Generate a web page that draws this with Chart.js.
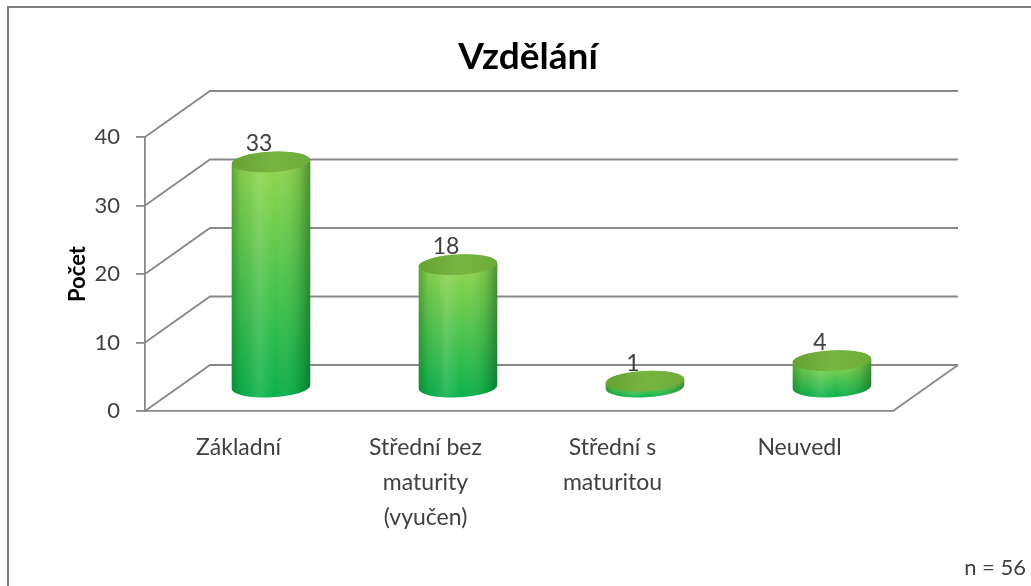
<!DOCTYPE html>
<html lang="cs">
<head>
<meta charset="utf-8">
<title>Vzdělání</title>
<script src="https://cdn.jsdelivr.net/npm/chart.js@4.4.1/dist/chart.umd.min.js"></script>
<style>
    html, body { margin: 0; padding: 0; background: #fff; }
    #wrap { position: relative; width: 1031px; height: 586px; }
</style>
</head>
<body>
<div id="wrap"><canvas id="eduChart"></canvas></div>
<script>
const chartTitle = 'Vzdělání';
const axisTitle = 'Počet';
const sampleNote = 'n = 56';
const categories = ['Základní', ['Střední bez', 'maturity', '(vyučen)'], ['Střední s', 'maturitou'], 'Neuvedl'];
const counts = [33, 18, 1, 4];
const yMax = 40;
const yStep = 10;

// fake 3D depth of the plot box
const DEPTH_X = 65;
const DEPTH_Y = -46;
const LINE = '#888888';
const TEXT = '#404040';
const FONT = 'Lato, "Open Sans", sans-serif';

function drawCylinder(ctx, cx, yTop, yBot, rx, ry, tilt) {
    const body = () => {
        ctx.beginPath();
        ctx.moveTo(cx - rx, yTop);
        ctx.lineTo(cx - rx, yBot);
        ctx.ellipse(cx, yBot, rx, ry, tilt, Math.PI, 0, true);
        ctx.lineTo(cx + rx, yTop);
        ctx.ellipse(cx, yTop, rx, ry, tilt, 0, Math.PI, true);
        ctx.closePath();
    };
    const vg = ctx.createLinearGradient(0, yTop, 0, yBot + ry);
    vg.addColorStop(0, '#93d64e');
    vg.addColorStop(1, '#0bb14c');
    body();
    ctx.fillStyle = vg;
    ctx.fill();

    const hg = ctx.createLinearGradient(cx - rx, 0, cx + rx, 0);
    hg.addColorStop(0, 'rgba(0,70,20,0.35)');
    hg.addColorStop(0.12, 'rgba(0,70,20,0.08)');
    hg.addColorStop(0.35, 'rgba(255,255,255,0.12)');
    hg.addColorStop(0.55, 'rgba(255,255,255,0)');
    hg.addColorStop(0.85, 'rgba(0,70,20,0.15)');
    hg.addColorStop(1, 'rgba(0,60,20,0.45)');
    body();
    ctx.fillStyle = hg;
    ctx.fill();

    const cg = ctx.createLinearGradient(cx - rx, 0, cx + rx, 0);
    cg.addColorStop(0, '#66a233');
    cg.addColorStop(0.5, '#78b440');
    cg.addColorStop(1, '#6fab39');
    ctx.beginPath();
    ctx.ellipse(cx, yTop, rx, ry, tilt, 0, Math.PI * 2);
    ctx.fillStyle = cg;
    ctx.fill();
}

const box3d = {
    id: 'box3d',
    beforeDraw(chart) {
        const ctx = chart.ctx;
        ctx.save();
        ctx.strokeStyle = '#7f7f7f';
        ctx.lineWidth = 2;
        ctx.beginPath();
        ctx.moveTo(8, 586);
        ctx.lineTo(8, 7);
        ctx.lineTo(1031, 7);
        ctx.stroke();

        ctx.fillStyle = '#000';
        ctx.font = 'bold 37px ' + FONT;
        ctx.textAlign = 'center';
        ctx.textBaseline = 'middle';
        ctx.fillText(chartTitle, 528, 57);

        ctx.fillStyle = TEXT;
        ctx.font = '22px ' + FONT;
        ctx.textAlign = 'right';
        ctx.fillText(sampleNote, 1026, 568);
        ctx.restore();
    },
    beforeDatasetsDraw(chart) {
        const {ctx, chartArea: a, scales: {y}} = chart;
        ctx.save();
        ctx.strokeStyle = LINE;
        ctx.lineWidth = 1.8;
        ctx.beginPath();
        y.ticks.forEach(t => {
            const py = y.getPixelForValue(t.value);
            ctx.moveTo(a.left, py);
            ctx.lineTo(a.left + DEPTH_X, py + DEPTH_Y);
            ctx.lineTo(a.right + DEPTH_X, py + DEPTH_Y);
        });
        const p0 = y.getPixelForValue(0);
        ctx.moveTo(a.right, p0);
        ctx.lineTo(a.right + DEPTH_X, p0 + DEPTH_Y);
        ctx.stroke();
        ctx.restore();
    },
    afterDatasetsDraw(chart) {
        const ctx = chart.ctx;
        const meta = chart.getDatasetMeta(0);
        ctx.save();
        meta.data.forEach((bar, i) => {
            const {x, y, base, width} = bar.getProps(['x', 'y', 'base', 'width'], true);
            const cx = x + DEPTH_X / 2;
            const yTop = y + DEPTH_Y / 2;
            const yBot = base + DEPTH_Y / 2;
            const rx = width / 2;
            drawCylinder(ctx, cx, yTop, yBot, rx, rx * 0.26, -0.05);

            ctx.fillStyle = TEXT;
            ctx.font = '23px ' + FONT;
            ctx.textAlign = 'center';
            ctx.textBaseline = 'middle';
            ctx.fillText(String(counts[i]), cx - 12, yTop - 18);
        });
        ctx.restore();
    }
};

new Chart(document.getElementById('eduChart'), {
    type: 'bar',
    data: {
        labels: categories,
        datasets: [{
            label: axisTitle,
            data: counts,
            backgroundColor: 'rgba(0,0,0,0)',
            borderWidth: 0,
            categoryPercentage: 1,
            barPercentage: 0.42
        }]
    },
    plugins: [box3d],
    options: {
        responsive: true,
        maintainAspectRatio: false,
        animation: false,
        layout: {
            padding: {left: 8, top: 137, right: 138, bottom: 35}
        },
        plugins: {
            legend: {display: false},
            title: {display: false},
            tooltip: {enabled: false}
        },
        scales: {
            x: {
                grid: {display: false, drawTicks: false},
                border: {display: true, color: LINE, width: 1.8},
                ticks: {
                    color: TEXT,
                    padding: 19,
                    maxRotation: 0,
                    autoSkip: false,
                    font: {family: FONT, size: 23, lineHeight: 1.52}
                },
                afterFit: s => { s.height = 140; }
            },
            y: {
                min: 0,
                max: yMax,
                ticks: {
                    stepSize: yStep,
                    color: TEXT,
                    padding: 16,
                    font: {family: FONT, size: 22}
                },
                grid: {
                    display: true,
                    drawOnChartArea: false,
                    drawTicks: true,
                    tickLength: 9,
                    color: LINE,
                    lineWidth: 1.8
                },
                border: {display: true, color: LINE, width: 1.8},
                title: {
                    display: true,
                    text: axisTitle,
                    color: '#000',
                    padding: {top: 57, bottom: 0},
                    font: {family: FONT, size: 22, weight: 'bold'}
                },
                afterFit: s => { s.width = 137; }
            }
        }
    }
});
</script>
</body>
</html>
